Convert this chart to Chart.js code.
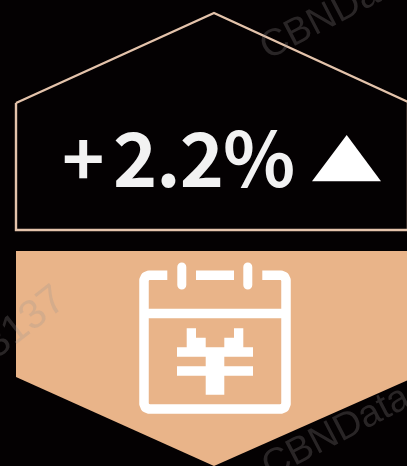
<!DOCTYPE html>
<html><head><meta charset="utf-8">
<style>html,body{margin:0;padding:0;background:#040102}#w{position:relative;width:407px;height:466px}canvas{display:block}</style>
<script src="https://cdn.jsdelivr.net/npm/chart.js@4"></script>
</head><body><div id="w"><canvas id="c" width="407" height="466"></canvas></div>
<script>
const BG='#040102', PEACH='#e9b489', LINE='#e4c3ab', WHITE='#ffffff', TEXT='#f2f2f2';
const changeSign='+';
const changeValue='2.2%';
const watermarks=['CBNData','CBNData','3137'];
const pts=a=>a.map(p=>({x:p[0],y:p[1]}));
const housePts=[[16,103],[214,13],[408,102],[408,230],[16,230],[16,103]];
const bannerPts=[[16,251],[408,251],[408,380],[214,466],[16,377],[16,251]];
const trianglePts=[[346.7,135],[381,181.3],[312,181.3],[346.7,135]];
const framePts=[[167.3,275.2],[149,275.2],[145.5,276.6],[144,280],[144,404],[145.5,407.6],[149,409],[281,409],[284.5,407.6],[286,404],[286,280],[284.5,276.6],[281,275.2],[262.3,275.2]];
const frameTopBar=[[196,275.2],[234,275.2]];
const ringLeft=[[181.8,267],[181.8,285]];
const ringRight=[[247.8,267],[247.8,285]];
const frameDivider=[[144,313.5],[286,313.5]];
const yenPts=[[186.7,328.3],[196,328.3],[196,337.7],[205.7,337.7],[205.7,347.3],[224.3,347.3],[224.3,337.7],[234,337.7],[234,328.3],[243.3,328.3],[243.3,347.3],[253,347.3],[253,356.7],[224.3,356.7],[224.3,366.3],[253,366.3],[253,375.7],[224.3,375.7],[224.3,394.7],[205.7,394.7],[205.7,375.7],[177,375.7],[177,366.3],[205.7,366.3],[205.7,356.7],[177,356.7],[177,347.3],[186.7,347.3],[186.7,328.3]];
const stroke=(d,w,cap)=>({data:pts(d),borderColor:WHITE,borderWidth:w,borderCapStyle:cap||'butt',borderJoinStyle:'round',pointRadius:0,fill:false,tension:0,showLine:true});
const area=(d,c)=>({data:pts(d),borderColor:c,borderWidth:0,polygonFill:c,pointRadius:0,fill:false,tension:0,showLine:true});
const polygons={id:'polygons',beforeDatasetDraw(ch,args){
  const ds=ch.data.datasets[args.index];
  if(!ds.polygonFill)return;
  const g=ch.ctx;g.save();g.beginPath();
  args.meta.data.forEach((p,i)=>i?g.lineTo(p.x,p.y):g.moveTo(p.x,p.y));
  g.closePath();g.fillStyle=ds.polygonFill;g.fill();g.restore();
}};
const texts={id:'texts',afterDatasetsDraw(ch){
  const g=ch.ctx;g.save();
  g.textBaseline='alphabetic';g.textAlign='left';
  g.fillStyle=TEXT;
  g.font='700 72px "Noto Sans CJK SC"';g.fillText(changeSign,62,186);
  g.letterSpacing='-1px';
  g.font='700 75px "Noto Sans CJK SC"';g.fillText(changeValue,113,186.5);
  g.letterSpacing='0px';
  g.fillStyle='rgba(150,146,146,0.25)';g.font='38px "Liberation Sans"';
  const wm=[[watermarks[0],268,60,-27.5],[watermarks[1],270,479,-27.5]];
  wm.forEach(([t,x,y,a])=>{g.save();g.translate(x,y);g.rotate(a*Math.PI/180);g.fillText(t,0,0);g.restore();});
  g.font='41px "Liberation Sans"';
  g.save();g.translate(-4,360);g.rotate(-38*Math.PI/180);g.fillText(watermarks[2],0,0);g.restore();
  g.restore();
}};
new Chart(document.getElementById('c'),{type:'scatter',
 data:{datasets:[
  area(yenPts,WHITE),
  stroke(ringLeft,9,'round'),stroke(ringRight,9,'round'),
  stroke(framePts,9.5),stroke(frameTopBar,9.5),stroke(frameDivider,9.5),
  area(trianglePts,WHITE),
  {data:pts(housePts),borderColor:LINE,borderWidth:2.4,borderJoinStyle:'miter',pointRadius:0,fill:false,tension:0,showLine:true},
  area(bannerPts,PEACH)
 ]},
 options:{responsive:false,animation:false,events:[],
  layout:{padding:0},
  plugins:{legend:{display:false},tooltip:{enabled:false},title:{display:false}},
  clip:false,
  scales:{x:{type:'linear',min:0,max:407,display:false},y:{type:'linear',min:0,max:466,reverse:true,display:false}}
 },plugins:[{id:'bg',beforeDraw(ch){const g=ch.ctx;g.save();g.fillStyle=BG;g.fillRect(0,0,ch.width,ch.height);g.restore();}},polygons,texts]});
</script></body></html>
